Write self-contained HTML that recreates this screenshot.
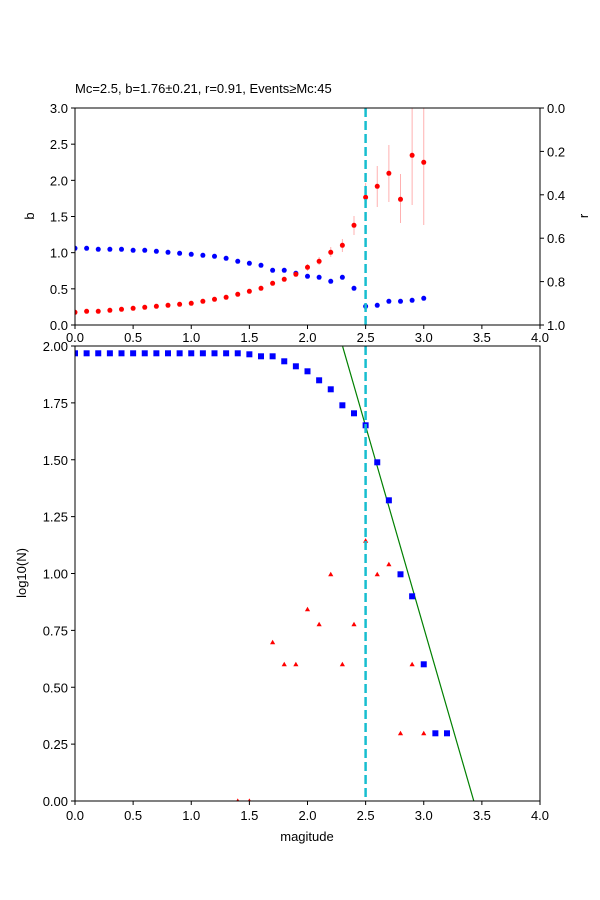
<!DOCTYPE html>
<html><head><meta charset="utf-8"><style>body{margin:0;background:#fff}svg{display:block;font-family:"Liberation Sans","DejaVu Sans",sans-serif}</style></head>
<body>
<svg width="600" height="900" xmlns="http://www.w3.org/2000/svg" font-size="13" fill="#000">
<rect width="600" height="900" fill="#fff"/>
<text x="75" y="93">Mc=2.5, b=1.76±0.21, r=0.91, Events≥Mc:45</text>
<defs><clipPath id="c1"><rect x="75" y="108" width="465" height="217"/></clipPath>
<clipPath id="c2"><rect x="75" y="346" width="465" height="455"/></clipPath></defs>
<!-- top error bars -->
<g stroke="#ffb0b0" stroke-width="1" clip-path="url(#c1)" id="eb"></g>
<g id="top" clip-path="url(#c1)"></g>
<line x1="365.6" y1="108" x2="365.6" y2="325" stroke="#17becf" stroke-width="2.5" stroke-dasharray="9,4"/>
<rect x="75" y="108" width="465" height="217" fill="none" stroke="#000" stroke-width="1"/>
<g id="tt"></g>
<text transform="translate(34,216) rotate(-90)" text-anchor="middle">b</text>
<text transform="translate(588,216) rotate(-90)" text-anchor="middle">r</text>
<!-- bottom -->
<rect x="75" y="346" width="465" height="455" fill="#fff"/>
<g clip-path="url(#c2)">
<line x1="342.7" y1="346.7" x2="474" y2="801.7" stroke="green" stroke-width="1.2" transform="translate(0,0)"/>
<line x1="337" y1="327" x2="342.7" y2="346.7" stroke="green" stroke-width="1.2"/>
<g id="bot"></g>
</g>
<line x1="365.6" y1="346" x2="365.6" y2="801" stroke="#17becf" stroke-width="2.5" stroke-dasharray="9,4"/>
<rect x="75" y="346" width="465" height="455" fill="none" stroke="#000" stroke-width="1"/>
<g id="bt"></g>
<text transform="translate(26,573) rotate(-90)" text-anchor="middle">log10(N)</text>
<text x="307" y="841" text-anchor="middle">magitude</text>
</svg>
<script>
const NS="http://www.w3.org/2000/svg";
function el(p,t,a,txt){const e=document.createElementNS(NS,t);for(const k in a)e.setAttribute(k,a[k]);if(txt!==undefined)e.textContent=txt;document.getElementById(p).appendChild(e);return e;}
const X=m=>75+m*116.25;
const blue=[248.3,248.3,249.3,249.3,249.3,250.3,250.3,251.3,252.3,253.3,254.3,255.3,256.3,258.3,261.3,263.3,265.3,270.3,270.3,273.3,276.3,277.3,281.3,277.3,288.3,306.3,305.3,301.3,301.3,300.3,298.3];
const red=[312.3,311.3,311.3,310.3,309.3,308.3,307.3,306.3,305.3,304.3,303.3,301.3,299.3,297.3,294.3,291.3,288.3,283.3,279.3,274.3,267.3,261.3,252.3,245.3,225.3,197.3,186.3,173.3,199.3,155.3,162.3];
const eb={20:[264,271],21:[257,265],22:[247,257],23:[239,252],24:[216,235],25:[183,207],26:[166,207],27:[145,202],28:[174,223],29:[100,205],30:[100,225]};
for(const k in eb){const x=X(k/10);el("eb","line",{x1:x,x2:x,y1:eb[k][0],y2:eb[k][1]});}
for(let i=0;i<=30;i++){el("top","circle",{cx:X(i/10),cy:blue[i],r:2.5,fill:"blue"});el("top","circle",{cx:X(i/10),cy:red[i],r:2.5,fill:"red"});}
// top ticks
for(let i=0;i<=8;i++){const x=X(i*0.5);el("tt","line",{x1:x,x2:x,y1:325,y2:329,stroke:"#000"});el("tt","text",{x:x,y:342,"text-anchor":"middle"},(i*0.5).toFixed(1));}
for(let i=0;i<=6;i++){const y=325-i*0.5*72.33;el("tt","line",{x1:71,x2:75,y1:y,y2:y,stroke:"#000"});el("tt","text",{x:68,y:y+5,"text-anchor":"end"},(i*0.5).toFixed(1));}
for(let i=0;i<=5;i++){const y=108+i*0.2*217;el("tt","line",{x1:540,x2:544,y1:y,y2:y,stroke:"#000"});el("tt","text",{x:547,y:y+5},(i*0.2).toFixed(1));}
// bottom
const sq=[];for(let i=0;i<=12;i++)sq.push(353.3);
sq.push(353.3,353.3,354.3,356.3,356.3,361.3,366.3,371.3,380.3,389.3,405.3,413.3,425.3,462.3,500.3,574.3,596.3,664.3,733.3,733.3);
sq.forEach((y,i)=>el("bot","rect",{x:X(i/10)-3,y:y-3,width:6,height:6,fill:"blue"}));
const tri=[[1.4,801],[1.5,801],[1.7,642.3],[1.8,664.3],[1.9,664.3],[2.0,609.3],[2.1,624.3],[2.2,574.3],[2.3,664.3],[2.4,624.3],[2.5,540.7],[2.6,574.3],[2.7,564.3],[2.8,733.3],[2.9,664.3],[3.0,733.3]];
tri.forEach(([m,y])=>{const x=X(m);el("bot","polygon",{points:`${x-2.6},${y+2} ${x+2.6},${y+2} ${x},${y-2.6}`,fill:"red"});});
for(let i=0;i<=8;i++){const x=X(i*0.5);el("bt","line",{x1:x,x2:x,y1:801,y2:805,stroke:"#000"});el("bt","text",{x:x,y:820,"text-anchor":"middle"},(i*0.5).toFixed(1));}
for(let i=0;i<=8;i++){const y=801-i*0.25*227.5;el("bt","line",{x1:71,x2:75,y1:y,y2:y,stroke:"#000"});el("bt","text",{x:68,y:y+5,"text-anchor":"end"},(i*0.25).toFixed(2));}
</script>
</body></html>
